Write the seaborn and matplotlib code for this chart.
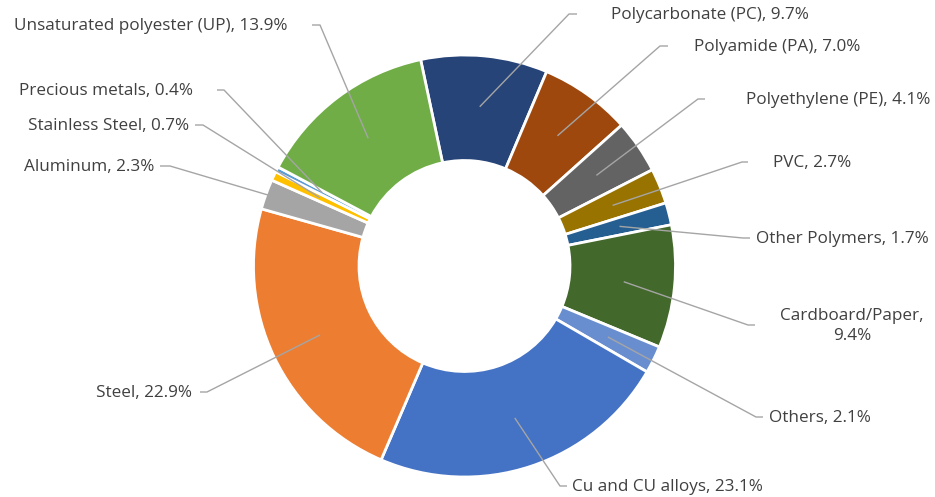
import numpy as np
import matplotlib.pyplot as plt
import seaborn as sns

# Material shares, clockwise from the top
materials = ["Polycarbonate (PC)", "Polyamide (PA)", "Polyethylene (PE)", "PVC",
             "Other Polymers", "Cardboard/Paper", "Others", "Cu and CU alloys",
             "Steel", "Aluminum", "Stainless Steel", "Precious metals",
             "Unsaturated polyester (UP)"]
shares = [9.7, 7.0, 4.1, 2.7, 1.7, 9.4, 2.1, 23.1, 22.9, 2.3, 0.7, 0.4, 13.9]
colors = ["#264478", "#9E480E", "#636363", "#997300", "#255E91", "#43682B",
          "#698ED0", "#4472C4", "#ED7D31", "#A5A5A5", "#FFC000", "#5B9BD5",
          "#70AD47"]

# label layout in pixels from top-left: text x, text y, alignment, elbow x, tail x
label_pos = {
    "Polycarbonate (PC)": (611, 15, "left", 569, 577),
    "Polyamide (PA)": (694, 47, "left", 660, 668),
    "Polyethylene (PE)": (746, 100, "left", 698, 705),
    "PVC": (773, 163, "left", 742, 748),
    "Other Polymers": (756, 239, "left", 743, 750),
    "Cardboard/Paper": (852, 326, "center", 748, 755),
    "Others": (769, 418, "left", 756, 763),
    "Cu and CU alloys": (572, 487, "left", 560, 567),
    "Steel": (192, 393, "right", 207, 200),
    "Aluminum": (154, 167, "right", 170, 160),
    "Stainless Steel": (189, 126, "right", 203, 195),
    "Precious metals": (193, 91, "right", 224, 217),
    "Unsaturated polyester (UP)": (287, 26, "right", 320, 312),
}

sns.set_theme(style="white")
plt.rcParams['font.family'] = ['Open Sans', 'DejaVu Sans']

W, H = 935, 497
fig = plt.figure(figsize=(W / 100, H / 100), dpi=100)
ax = fig.add_axes([0, 0, 1, 1])

cx, cy, R = 464.5, H - 266, 211
wedges, _ = ax.pie(shares, colors=colors, startangle=102, counterclock=False,
                   center=(cx, cy), radius=R,
                   wedgeprops=dict(width=R * 0.5, edgecolor='white', linewidth=2))

for w, name, val in zip(wedges, materials, shares):
    tx, ty, ha, ex, tail = label_pos[name]
    mid = np.deg2rad((w.theta1 + w.theta2) / 2)
    r = R * 0.99 if name == "Aluminum" else 160
    px, py = cx + r * np.cos(mid), cy + r * np.sin(mid)
    ly = H - ty + 1
    ax.plot([px, ex, tail], [py, ly, ly], color='#A5A5A5', lw=1, solid_capstyle='butt')
    if name == "Cardboard/Paper":
        txt = f"{name},\n{val:.1f}%"
    else:
        txt = f"{name}, {val:.1f}%"
    ax.text(tx, H - ty, txt, ha=ha, va='center', fontsize=12.3, color='#404040',
            linespacing=1.4)

ax.set_xlim(0, W)
ax.set_ylim(0, H)
ax.set_aspect('equal')
ax.axis('off')

fig.savefig('out.png', dpi=100, facecolor='white')
